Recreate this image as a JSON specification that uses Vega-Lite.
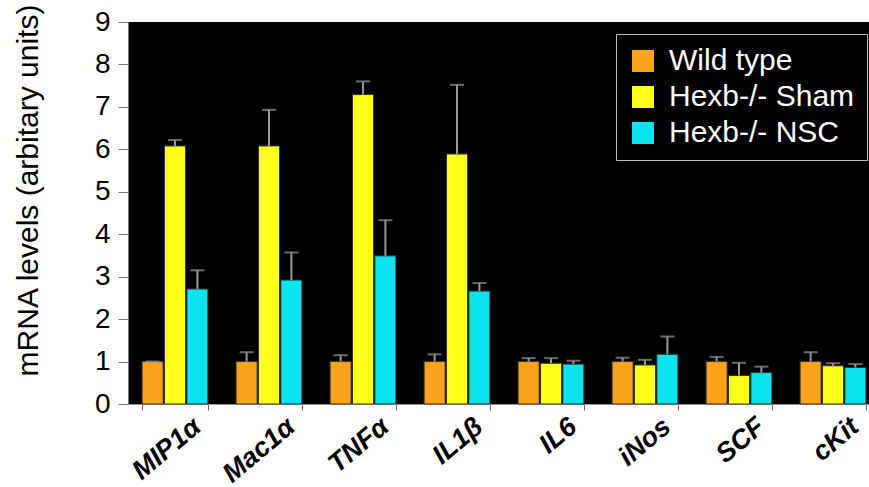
{
  "$schema": "https://vega.github.io/schema/vega-lite/v6.json",
  "autosize": {"type": "none"},
  "padding": {"left": 128, "top": 22, "right": 0, "bottom": 83},
  "width": 741,
  "height": 382,
  "background": "white",
  "config": {
    "font": "Liberation Sans",
    "view": {"fill": "black", "stroke": null}
  },
  "data": {
    "values": [
      {"gene": "MIP1α", "group": "Wild type", "value": 1.0, "err": 1.0},
      {"gene": "MIP1α", "group": "Hexb-/- Sham", "value": 6.08, "err": 6.22},
      {"gene": "MIP1α", "group": "Hexb-/- NSC", "value": 2.71, "err": 3.15},
      {"gene": "Mac1α", "group": "Wild type", "value": 1.0, "err": 1.22},
      {"gene": "Mac1α", "group": "Hexb-/- Sham", "value": 6.08, "err": 6.93},
      {"gene": "Mac1α", "group": "Hexb-/- NSC", "value": 2.92, "err": 3.57},
      {"gene": "TNFα", "group": "Wild type", "value": 1.0, "err": 1.15},
      {"gene": "TNFα", "group": "Hexb-/- Sham", "value": 7.29, "err": 7.6},
      {"gene": "TNFα", "group": "Hexb-/- NSC", "value": 3.49, "err": 4.33},
      {"gene": "IL1β", "group": "Wild type", "value": 1.0, "err": 1.17},
      {"gene": "IL1β", "group": "Hexb-/- Sham", "value": 5.89, "err": 7.52},
      {"gene": "IL1β", "group": "Hexb-/- NSC", "value": 2.66, "err": 2.85},
      {"gene": "IL6", "group": "Wild type", "value": 1.0, "err": 1.08},
      {"gene": "IL6", "group": "Hexb-/- Sham", "value": 0.96, "err": 1.08},
      {"gene": "IL6", "group": "Hexb-/- NSC", "value": 0.94, "err": 1.02},
      {"gene": "iNos", "group": "Wild type", "value": 1.0, "err": 1.09},
      {"gene": "iNos", "group": "Hexb-/- Sham", "value": 0.92, "err": 1.04},
      {"gene": "iNos", "group": "Hexb-/- NSC", "value": 1.17, "err": 1.59},
      {"gene": "SCF", "group": "Wild type", "value": 1.0, "err": 1.11},
      {"gene": "SCF", "group": "Hexb-/- Sham", "value": 0.67, "err": 0.97},
      {"gene": "SCF", "group": "Hexb-/- NSC", "value": 0.74, "err": 0.88},
      {"gene": "cKit", "group": "Wild type", "value": 1.0, "err": 1.22},
      {"gene": "cKit", "group": "Hexb-/- Sham", "value": 0.9, "err": 0.96},
      {"gene": "cKit", "group": "Hexb-/- NSC", "value": 0.86, "err": 0.94}
    ]
  },
  "encoding": {
    "x": {
      "field": "gene",
      "type": "nominal",
      "sort": null,
      "title": null,
      "scale": {"paddingInner": 0.3, "paddingOuter": 0.15, "range": [0, 752]},
      "axis": {
        "tickBand": "extent",
        "domainColor": "#999",
        "tickColor": "#666",
        "tickSize": 6,
        "labelAngle": -40,
        "labelAlign": "right",
        "labelBaseline": "alphabetic",
        "labelFontSize": 27,
        "labelFontWeight": "bold",
        "labelFontStyle": "italic",
        "labelColor": "black",
        "labelOffset": 27,
        "labelPadding": 19,
        "labelBound": false
      }
    },
    "xOffset": {
      "field": "group",
      "type": "nominal",
      "sort": ["Wild type", "Hexb-/- Sham", "Hexb-/- NSC"],
      "scale": {"paddingInner": 0.06}
    },
    "y": {
      "field": "value",
      "type": "quantitative",
      "title": "mRNA levels (arbitary units)",
      "scale": {"domain": [0, 9], "nice": false},
      "axis": {
        "values": [0, 1, 2, 3, 4, 5, 6, 7, 8, 9],
        "grid": false,
        "domainColor": "#777",
        "tickColor": "#777",
        "tickSize": 10,
        "labelFontSize": 28,
        "labelColor": "black",
        "labelPadding": 8,
        "titleFontSize": 30,
        "titleFontWeight": "normal",
        "titleColor": "black",
        "titleAngle": -90,
        "titleAlign": "center",
        "titleBaseline": "alphabetic",
        "titleX": -91,
        "titleY": 168
      }
    }
  },
  "layer": [
    {
      "mark": {"type": "bar", "stroke": "#333", "strokeWidth": 1},
      "encoding": {
        "color": {
          "field": "group",
          "type": "nominal",
          "sort": ["Wild type", "Hexb-/- Sham", "Hexb-/- NSC"],
          "scale": {
            "domain": ["Wild type", "Hexb-/- Sham", "Hexb-/- NSC"],
            "range": ["#FBA21A", "#FFFF1C", "#0BE3EE"]
          },
          "legend": {
            "title": null,
            "orient": "none",
            "legendX": 488,
            "legendY": 12,
            "padding": 12,
            "strokeColor": "#bbb",
            "fillColor": "black",
            "symbolType": "square",
            "symbolSize": 484,
            "symbolStrokeWidth": 0,
            "symbolOpacity": 1,
            "labelColor": "white",
            "labelFontSize": 30,
            "labelLimit": 400,
            "labelOffset": 11,
            "rowPadding": 6
          }
        }
      }
    },
    {
      "mark": {"type": "rule", "color": "#999", "strokeWidth": 2},
      "encoding": {"y2": {"field": "err"}}
    },
    {
      "mark": {"type": "tick", "color": "#999", "thickness": 2, "size": 14, "orient": "horizontal"},
      "encoding": {"y": {"field": "err", "type": "quantitative"}}
    }
  ]
}
